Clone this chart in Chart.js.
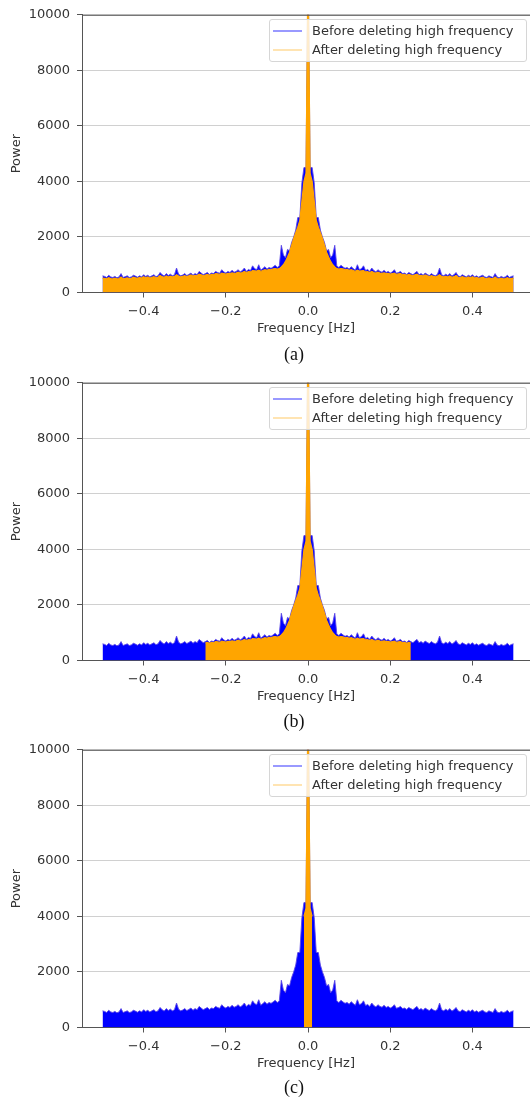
<!DOCTYPE html>
<html>
<head>
<meta charset="utf-8">
<script src="https://cdn.jsdelivr.net/npm/chart.js@4.4.1/dist/chart.umd.min.js"></script>
<style>
  html, body { margin: 0; padding: 0; background: #fff; }
  body { width: 530px; height: 1099px; position: relative; overflow: hidden; font-family: "DejaVu Sans", sans-serif; }
  .panel { position: absolute; left: 0; width: 530px; height: 345px; }
  .panel canvas { position: absolute; left: 0; top: 0; }
  .legend { position: absolute; left: 269px; top: 19px; width: 258px; height: 43px; box-sizing: border-box;
            border: 1px solid #d6d6d6; border-radius: 3px; background: rgba(255,255,255,0.8); }
  .key { position: absolute; left: 273px; width: 29px; height: 2px; }
  .txt { position: absolute; left: 312px; font-size: 13px; line-height: 16px; color: #333; white-space: nowrap; }
  .caption { position: absolute; width: 60px; margin-left: -30px; text-align: center;
             font-family: "Liberation Serif", serif; font-size: 18px; line-height: 20px; color: #111; }
</style>
</head>
<body>
<script>
// positive half of the spectrum, bins of 0.005 Hz starting at 0 Hz
const binWidth = 0.005;
const beforePos = [
  12000, 4500, 4500, 3950, 2700, 2700, 2250, 2000, 1800, 1500,
  1550, 1250, 1350, 1700, 950,
  900, 980, 920, 870, 900, 840, 930, 860, 800, 1000,
  820, 860, 960, 790, 830, 760, 880, 790, 740, 820,
  760, 730, 800, 720, 760, 700, 740, 820, 690, 720,
  760, 680, 700, 650, 720, 680, 640, 700, 760, 640,
  680, 620, 700, 650, 610, 680, 630, 600, 660, 880,
  640, 600, 660, 610, 680, 590, 640, 720, 600, 570,
  640, 600, 560, 620, 580, 640, 560, 600, 550, 590,
  620, 560, 540, 600, 570, 540, 680, 560, 530, 580,
  540, 560, 620, 540, 580, 600
];
const afterPos = [
  12000, 4300, 4000, 3300, 2600, 2350, 2150, 1950, 1700, 1450,
  1280, 1120, 1000, 920, 860,
  840, 860, 850, 820, 830, 800, 820, 790, 760, 800,
  770, 780, 790, 740, 750, 720, 760, 720, 700, 730,
  700, 690, 710, 680, 690, 660, 680, 700, 650, 670,
  680, 640, 650, 620, 650, 630, 600, 640, 660, 600,
  620, 590, 630, 600, 570, 610, 580, 560, 590, 640,
  580, 560, 590, 560, 600, 550, 570, 610, 550, 530,
  570, 550, 520, 560, 530, 570, 520, 540, 510, 530,
  550, 510, 500, 530, 510, 495, 560, 505, 490, 515,
  490, 500, 530, 490, 510, 520
];
const xTicks = [-0.4, -0.2, 0, 0.2, 0.4];
const yTicks = [0, 2000, 4000, 6000, 8000, 10000];
const cutoffs = [0.5, 0.25, 0.01];
const captions = ['(a)', '(b)', '(c)'];
const seriesNames = ['Before deleting high frequency', 'After deleting high frequency'];

const panelTops = [0, 368, 735];
const captionY = [344, 711, 1077];
const font = { family: 'DejaVu Sans', size: 13 };

// spectrum of a real signal is symmetric: mirror the positive half
function mirror(pos) {
  const pts = [];
  for (let i = pos.length - 1; i > 0; i--) pts.push({ x: -i * binWidth, y: pos[i] });
  for (let i = 0; i < pos.length; i++) pts.push({ x: i * binWidth, y: pos[i] });
  return pts;
}

const before = mirror(beforePos);
const afterFull = mirror(afterPos);

const topSpine = {
  id: 'topSpine',
  afterDatasetsDraw(chart) {
    const { ctx, chartArea } = chart;
    ctx.save();
    ctx.strokeStyle = '#555';
    ctx.lineWidth = 1;
    ctx.beginPath();
    ctx.moveTo(chartArea.left, chartArea.top + 0.5);
    ctx.lineTo(chartArea.right, chartArea.top + 0.5);
    ctx.stroke();
    ctx.restore();
  }
};

function makePanel(k) {
  const top = panelTops[k];
  const panel = document.createElement('div');
  panel.className = 'panel';
  panel.style.top = top + 'px';
  const canvas = document.createElement('canvas');
  canvas.width = 530;
  canvas.height = 345;
  panel.appendChild(canvas);
  document.body.appendChild(panel);

  const after = afterFull.filter(p => Math.abs(p.x) <= cutoffs[k] + 1e-9);

  new Chart(canvas, {
    type: 'line',
    data: {
      datasets: [
        {
          label: seriesNames[0], data: before, order: 1,
          borderColor: 'rgba(90,70,230,0.9)', borderWidth: 1,
          backgroundColor: '#0000ff', fill: 'origin', pointRadius: 0, tension: 0
        },
        {
          label: seriesNames[1], data: after, order: 0,
          borderColor: '#ffa500', borderWidth: 1.2,
          backgroundColor: '#ffa500', fill: 'origin', pointRadius: 0, tension: 0
        }
      ]
    },
    options: {
      responsive: false,
      animation: false,
      devicePixelRatio: 1,
      layout: { padding: { top: 11, left: 0, right: 0, bottom: 0 } },
      plugins: { legend: { display: false }, tooltip: { enabled: false } },
      scales: {
        x: {
          type: 'linear', min: -0.55, max: 0.54,
          afterBuildTicks: s => { s.ticks = xTicks.map(v => ({ value: v })); },
          afterFit: s => { s.height = 52.5; },
          ticks: {
            padding: 6, color: '#333', font: font,
            callback: v => v.toFixed(1).replace('-', '\u2212')
          },
          grid: { drawOnChartArea: false, tickLength: 5, tickColor: '#555' },
          border: { color: '#555', width: 1 },
          title: { display: true, text: 'Frequency [Hz]', color: '#333', font: font, padding: { top: 0, bottom: 9 } }
        },
        y: {
          min: 0, max: 10000,
          afterBuildTicks: s => { s.ticks = yTicks.map(v => ({ value: v })); },
          afterFit: s => { s.width = 82; },
          ticks: { padding: 7, color: '#333', font: font, callback: v => String(v) },
          grid: { color: '#d0d0d0', tickLength: 5, tickColor: '#555' },
          border: { color: '#555', width: 1 },
          title: { display: true, text: 'Power', color: '#333', font: font, padding: { top: 9, bottom: 0 } }
        }
      }
    },
    plugins: [topSpine]
  });

  const legend = document.createElement('div');
  legend.className = 'legend';
  panel.appendChild(legend);
  const rows = [
    { y: 30, color: 'rgba(0,0,255,0.4)' },
    { y: 49, color: 'rgba(255,165,0,0.3)' }
  ];
  rows.forEach((r, i) => {
    const key = document.createElement('div');
    key.className = 'key';
    key.style.top = r.y + 'px';
    key.style.background = r.color;
    panel.appendChild(key);
    const txt = document.createElement('div');
    txt.className = 'txt';
    txt.style.top = (r.y - 7) + 'px';
    txt.textContent = seriesNames[i];
    panel.appendChild(txt);
  });

  const cap = document.createElement('div');
  cap.className = 'caption';
  cap.style.left = '294px';
  cap.style.top = captionY[k] + 'px';
  cap.textContent = captions[k];
  document.body.appendChild(cap);
}

for (let k = 0; k < 3; k++) makePanel(k);
</script>
</body>
</html>
